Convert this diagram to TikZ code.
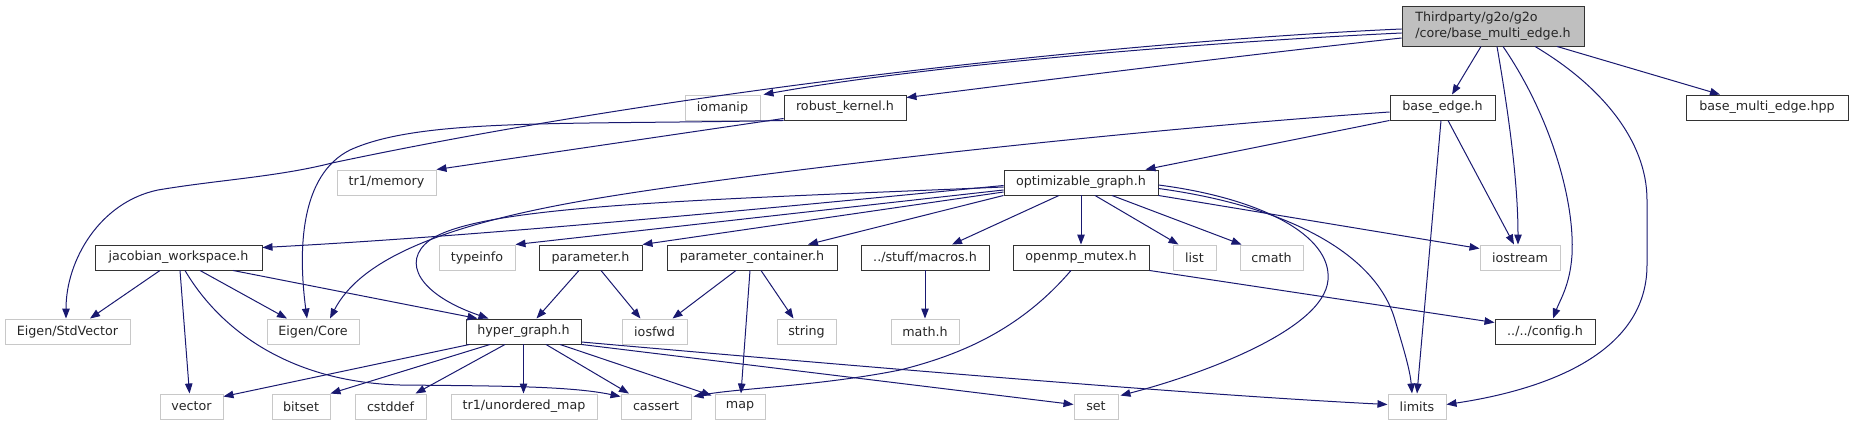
\documentclass[tikz,border=0pt]{standalone}
\usepackage{fontspec}
\setmainfont{DejaVu Sans}
\usetikzlibrary{arrows.meta}
\definecolor{edgeblue}{HTML}{191970}
\definecolor{sysgray}{HTML}{C8C8C8}
\definecolor{rootgray}{HTML}{BFBFBF}
\begin{document}
\begin{tikzpicture}[x=1pt,y=-1pt,
  box/.style={draw=black!80, line width=0.95pt, inner sep=0pt, minimum height=25pt,
    font=\fontsize{12.7}{16}\selectfont, text=black!85},
  sysbox/.style={box, draw=sysgray},
  edge/.style={draw=edgeblue, line width=1pt, -{Triangle[length=10pt,width=7.5pt]}}]
\useasboundingbox (0,0) rectangle (1853,425);
% row 1
\node[box, minimum width=182pt, minimum height=40pt, fill=rootgray, align=left] (root) at (1493,26) {Thirdparty/g2o/g2o\\/core/base\_multi\_edge.h};
% row 2
\node[sysbox, minimum width=75pt] (iomanip) at (722.5,107.5) {iomanip};
\node[box, minimum width=122pt] (robust) at (845,107.5) {robust\_kernel.h};
\node[box, minimum width=105pt] (baseedge) at (1442.5,107.5) {base\_edge.h};
\node[box, minimum width=162pt] (bmehpp) at (1767,107.5) {base\_multi\_edge.hpp};
% row 3
\node[sysbox, minimum width=99pt] (tr1mem) at (386.5,182.5) {tr1/memory};
\node[box, minimum width=154pt] (optgraph) at (1081,182.5) {optimizable\_graph.h};
% row 4
\node[box, minimum width=167pt] (jac) at (178.5,257.5) {jacobian\_workspace.h};
\node[sysbox, minimum width=76pt] (typeinfo) at (477,257.5) {typeinfo};
\node[box, minimum width=103pt] (param) at (590.5,257.5) {parameter.h};
\node[box, minimum width=170pt] (paramcont) at (752,257.5) {parameter\_container.h};
\node[box, minimum width=128pt] (macros) at (925,257.5) {../stuff/macros.h};
\node[box, minimum width=136pt] (openmp) at (1081,257.5) {openmp\_mutex.h};
\node[sysbox, minimum width=43pt] (list) at (1194.5,257.5) {list};
\node[sysbox, minimum width=63pt] (cmath) at (1271.5,257.5) {cmath};
\node[sysbox, minimum width=80pt] (iostream) at (1520,257.5) {iostream};
% row 5
\node[sysbox, minimum width=125pt] (esv) at (67.5,331.5) {Eigen/StdVector};
\node[sysbox, minimum width=92pt] (ecore) at (313,331.5) {Eigen/Core};
\node[box, minimum width=115pt] (hyper) at (523.5,331.5) {hyper\_graph.h};
\node[sysbox, minimum width=65pt] (iosfwd) at (654.5,331.5) {iosfwd};
\node[sysbox, minimum width=59pt] (string) at (806.5,331.5) {string};
\node[sysbox, minimum width=68pt] (math) at (925,331.5) {math.h};
\node[box, minimum width=100pt] (config) at (1545,331.5) {../../config.h};
% row 6
\node[sysbox, minimum width=63pt] (vector) at (191.5,406.5) {vector};
\node[sysbox, minimum width=58pt] (bitset) at (301,406.5) {bitset};
\node[sysbox, minimum width=71pt] (cstddef) at (390.5,406.5) {cstddef};
\node[sysbox, minimum width=146pt] (tr1umap) at (524,406.5) {tr1/unordered\_map};
\node[sysbox, minimum width=70pt] (cassert) at (656,406.5) {cassert};
\node[sysbox, minimum width=50pt] (map) at (740,406.5) {map};
\node[sysbox, minimum width=44pt] (set) at (1096,406.5) {set};
\node[sysbox, minimum width=58pt] (limits) at (1417,406.5) {limits};

% root edges
\draw[edge] ([xshift=-12pt]root.south) -- ([xshift=9.5pt]baseedge.north);
\draw[edge] ([xshift=64pt]root.south) -- ([xshift=-47pt]bmehpp.north);
\draw[edge] ([xshift=4pt]root.south) .. controls (1508,110) and (1518,180) .. ([xshift=-2pt]iostream.north);
\draw[edge] ([xshift=10pt]root.south) .. controls (1550,115) and (1575,200) .. (1572,255) .. controls (1570,285) and (1560,300) .. ([xshift=8pt]config.north);
\draw[edge] ([xshift=42pt]root.south) .. controls (1600,85) and (1647,140) .. (1647,200) -- (1647,265) .. controls (1647,360) and (1530,392) .. ([yshift=2pt]limits.east);
\draw[edge] ([yshift=-3pt]root.west) .. controls (1150,40) and (700,85) .. (332,163) .. controls (277,177) and (217,180) .. (158,190) .. controls (100,202) and (66,260) .. ([xshift=-1.5pt]esv.north);
\draw[edge] ([yshift=-7pt]root.west) .. controls (1150,45) and (900,70) .. ([xshift=3pt]iomanip.north east);
\draw[edge] ([yshift=-12pt]root.west) .. controls (1200,60) and (1000,86) .. ([yshift=-3pt]robust.north east);
% robust_kernel
\draw[edge] (robust.south west) .. controls (560,125) and (420,118) .. (350,150) .. controls (300,175) and (298,250) .. ([xshift=-6pt]ecore.north);
\draw[edge] ([yshift=2pt]robust.south west) -- (tr1mem.north east);
% base_edge
\draw[edge] (baseedge.south west) -- ([xshift=-13pt]optgraph.north east);
\draw[edge] ([yshift=-4.5pt]baseedge.west) .. controls (1100,132) and (700,178) .. (560,205) .. controls (440,228) and (360,260) .. ([xshift=17pt]ecore.north);
\draw[edge] ([xshift=5.5pt]baseedge.south) -- ([xshift=-6pt]iostream.north);
\draw[edge] ([xshift=-1.5pt]baseedge.south) -- (limits.north);
% optimizable_graph
\draw[edge] ([yshift=-3pt]optgraph.west) .. controls (800,205) and (500,235) .. ([yshift=-3pt]jac.north east);
\draw[edge] ([yshift=-7.5pt]optgraph.west) -- (typeinfo.north east);
\draw[edge] ([yshift=-9.5pt]optgraph.west) -- (param.north east);
\draw[edge] (optgraph.south west) -- ([xshift=56pt]paramcont.north);
\draw[edge] ([xshift=-22pt]optgraph.south) -- ([xshift=27pt]macros.north);
\draw[edge] (optgraph.south) -- (openmp.north);
\draw[edge] ([xshift=14pt]optgraph.south) -- ([xshift=-16pt]list.north);
\draw[edge] ([xshift=31pt]optgraph.south) -- ([xshift=2pt]cmath.north west);
\draw[edge] (optgraph.south east) -- ([yshift=-4pt]iostream.north west);
\draw[edge] ([yshift=-2.5pt]optgraph.east) .. controls (1260,198) and (1332,235) .. (1328,280) .. controls (1324,330) and (1200,375) .. ([xshift=2pt,yshift=-2pt]set.north east);
\draw[edge] ([yshift=-6pt]optgraph.east) .. controls (1280,205) and (1375,250) .. (1395,320) .. controls (1404,350) and (1410,370) .. ([xshift=-5pt]limits.north);
\draw[edge] ([yshift=-4.5pt]optgraph.west) .. controls (700,200) and (480,205) .. (430,240) .. controls (400,262) and (420,295) .. ([xshift=-35pt]hyper.north);
% parameter.h
\draw[edge] ([xshift=-11.5pt]param.south) -- ([xshift=13pt]hyper.north);
\draw[edge] ([xshift=10.5pt]param.south) -- ([xshift=-14pt]iosfwd.north);
% parameter_container.h
\draw[edge] ([xshift=-16pt]paramcont.south) -- ([xshift=18pt]iosfwd.north);
\draw[edge] ([xshift=-2pt]paramcont.south) -- ([xshift=1pt]map.north);
\draw[edge] ([xshift=9pt]paramcont.south) -- ([xshift=-13pt]string.north);
% macros
\draw[edge] (macros.south) -- (math.north);
% openmp_mutex
\draw[edge] ([xshift=-10pt]openmp.south) .. controls (1020,330) and (960,355) .. (900,370) .. controls (820,386) and (740,388) .. ([xshift=2pt,yshift=-3pt]cassert.north east);
\draw[edge] (openmp.south east) -- ([yshift=-4pt]config.north west);
% jacobian_workspace
\draw[edge] ([xshift=-18.5pt]jac.south) -- ([xshift=22.5pt]esv.north);
\draw[edge] ([xshift=21.5pt]jac.south) -- ([xshift=-26pt]ecore.north);
\draw[edge] ([xshift=1.5pt]jac.south) -- ([xshift=-2pt]vector.north);
\draw[edge] ([xshift=54.5pt]jac.south) -- ([xshift=12pt]hyper.north west);
\draw[edge] ([xshift=6.5pt]jac.south) .. controls (220,330) and (290,382) .. (400,385) .. controls (500,386) and (570,386) .. ([yshift=-3pt]cassert.north west);
% hyper_graph
\draw[edge] ([xshift=4pt]hyper.south west) -- ([yshift=-3pt]vector.north east);
\draw[edge] ([xshift=-33.5pt]hyper.south) -- (bitset.north east);
\draw[edge] ([xshift=-18.5pt]hyper.south) -- ([xshift=25pt]cstddef.north);
\draw[edge] (hyper.south) -- (hyper.south |- tr1umap.north);
\draw[edge] ([xshift=22.5pt]hyper.south) -- ([xshift=-27pt]cassert.north);
\draw[edge] ([xshift=36.5pt]hyper.south) -- ([xshift=-3pt,yshift=-2pt]map.north west);
\draw[edge] (hyper.south east) -- ([yshift=2pt]set.west);
\draw[edge] ([yshift=-10.5pt]hyper.east) .. controls (900,370) and (1200,395) .. ([yshift=2pt]limits.west);
\end{tikzpicture}
\end{document}
